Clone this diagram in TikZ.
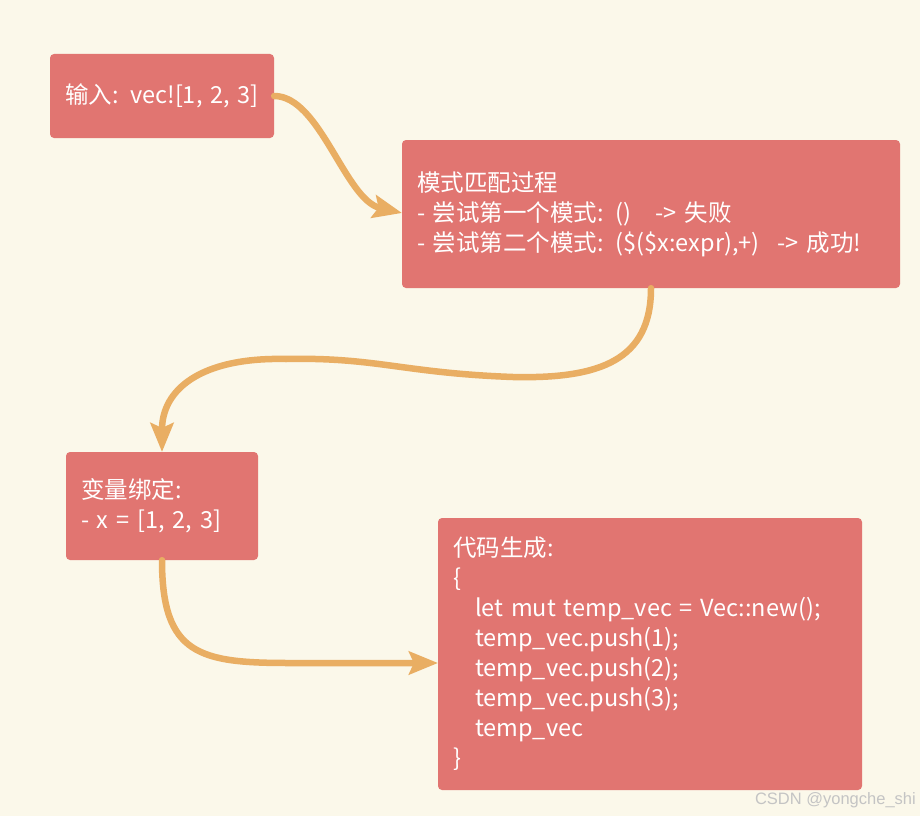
\documentclass[tikz,border=0pt]{standalone}
\usepackage{fontspec}
\setmainfont{Noto Sans CJK SC}
\newfontfamily\wmfont{Liberation Sans}
\usetikzlibrary{arrows.meta,calc}
\definecolor{bgc}{HTML}{FBF8EA}
\definecolor{boxc}{HTML}{E17571}
\definecolor{arrc}{HTML}{E9AE63}
\definecolor{wmc}{HTML}{C4C4C4}
\tikzset{
  box/.style={fill=boxc, draw=none, rounded corners=4pt, text=white, align=left,
    inner xsep=15pt, inner ysep=0pt, anchor=center,
    font=\fontsize{23.5}{30}\selectfont},
  flow/.style={draw=arrc, line width=6.5pt, line cap=round,
    -{Stealth[length=29pt,width=23pt,inset=5pt]}},
}
\begin{document}
\begin{tikzpicture}[x=1pt,y=-1pt]
\fill[bgc] (0,0) rectangle (920,816);
\useasboundingbox (0,0) rectangle (920,816);

\node[box, minimum width=224pt, minimum height=84pt, text width=194pt] (b1) at (162,96)
  {输入: vec![1, 2, 3]};
\node[box, minimum width=498pt, minimum height=148pt, text width=468pt] (b2) at (651,214)
  {模式匹配过程\\- 尝试第一个模式: ()\hspace{16pt} -> 失败\\- 尝试第二个模式: (\$(\$x:expr),+)\hspace{10pt} -> 成功!};
\node[box, minimum width=190pt, minimum height=108pt, text width=162pt] (b3) at (162,506)
  {变量绑定:\\- x = [1, 2, 3]};
\node[box, minimum width=424pt, minimum height=272pt, text width=394pt] (b4) at (650,654)
  {代码生成:\\\{\\\hspace*{22pt}let mut temp\_vec = Vec::new();\\\hspace*{22pt}temp\_vec.push(1);\\\hspace*{22pt}temp\_vec.push(2);\\\hspace*{22pt}temp\_vec.push(3);\\\hspace*{22pt}temp\_vec\\\}};

\node[text=wmc, font=\wmfont\fontsize{16.5}{16.5}\selectfont, anchor=east, inner sep=0pt] (wm) at (916,800) {CSDN @yongche\_shi};

\coordinate (t1) at (402,213);
\coordinate (m2a) at (513,377);
\coordinate (m2b) at (286,359);
\coordinate (t2) at (162,452);
\coordinate (m3) at (290,663);
\coordinate (t3) at (438,663);

\draw[flow] (b1.east) .. controls +(46,0) and +(-57,-13) .. (t1);
\draw[flow] (b2.south) .. controls +(0,72) and +(87,2) .. (m2a)
  .. controls +(-110,-4) and +(90,-2) .. (m2b)
  .. controls +(-86,-2) and +(0,-62) .. (t2);
\draw[flow] (b3.south) .. controls +(0,95) and +(-90,0) .. (m3) -- (t3);
\end{tikzpicture}
\end{document}
